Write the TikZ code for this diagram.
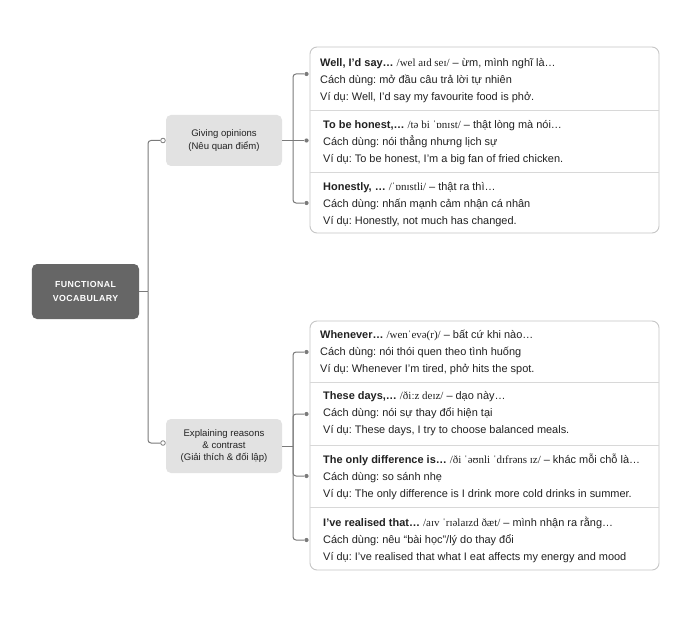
\documentclass[tikz,border=0pt]{standalone}
\usepackage{fontspec}
\setmainfont{Liberation Sans}
\newfontfamily\ipafont{Liberation Serif}
\newfontfamily\rootfont[LetterSpace=5]{Liberation Sans}
\usetikzlibrary{calc}
\definecolor{rootfill}{HTML}{666666}
\definecolor{midfill}{HTML}{E2E2E2}
\definecolor{cardline}{HTML}{C6C6C6}
\definecolor{divline}{HTML}{D8D8D8}
\definecolor{connc}{HTML}{7A7A7A}
\definecolor{txt}{HTML}{222222}
\frenchspacing
\begin{document}
\frenchspacing
\begin{tikzpicture}[x=1bp,y=-1bp,
  rootbox/.style={fill=rootfill, rounded corners=5bp, minimum width=107bp, minimum height=55bp, inner sep=0pt, text=white, align=center, font=\rootfont\bfseries\fontsize{8.8}{14}\selectfont},
  midbox/.style={fill=midfill, rounded corners=5bp, minimum width=116bp, inner sep=0pt, text=txt, align=center, font=\fontsize{9.6}{12.3}\selectfont},
  cardbox/.style={draw=cardline, line width=0.9bp, rounded corners=7bp, inner sep=0pt},
  divst/.style={draw=divline, line width=0.8bp},
  conn/.style={draw=connc, line width=1bp},
  ocirc/.style={circle, draw=connc, fill=white, line width=0.8bp, minimum size=4.6bp, inner sep=0pt},
  fdot/.style={circle, fill=connc, minimum size=4.2bp, inner sep=0pt},
  rowtxt/.style={anchor=west, align=left, inner sep=0pt, text=txt, font=\fontsize{11}{17}\selectfont},
]
\useasboundingbox (0,0) rectangle (700,617);
\fill[white] (0,0) rectangle (700,617);

% root and middle nodes
\node[rootbox] (root) at (85.5,291.5) {FUNCTIONAL\\VOCABULARY};
\node[midbox, minimum height=51bp] (g1) at (224,140.5) {Giving opinions\\(Nêu quan điểm)};
\node[midbox, minimum height=54bp] (g2) at (224,446) {Explaining reasons\\\& contrast\\(Giải thích \& đối lập)};

% trunk
\coordinate (trunk) at (148,291.5);
\node[ocirc] (o1) at (163,140.5) {};
\node[ocirc] (o2) at (163,443) {};
\draw[conn] (root.east) -- (trunk);
\draw[conn, rounded corners=3bp] (trunk) |- (o1);
\draw[conn, rounded corners=3bp] (trunk) |- (o2);

% cards
\node[cardbox, minimum width=349bp, minimum height=186bp] (card1) at (484.5,140) {};
\node[cardbox, minimum width=349bp, minimum height=249bp] (card2) at (484.5,445.5) {};
\draw[divst] (card1.west |- 0,110) -- (card1.east |- 0,110);
\draw[divst] (card1.west |- 0,172) -- (card1.east |- 0,172);
\draw[divst] (card2.west |- 0,382) -- (card2.east |- 0,382);
\draw[divst] (card2.west |- 0,445) -- (card2.east |- 0,445);
\draw[divst] (card2.west |- 0,507) -- (card2.east |- 0,507);

% branch 1
\coordinate (b1) at (293,140.5);
\node[fdot] (d11) at (306.5,74) {};
\node[fdot] (d12) at (306.5,140.5) {};
\node[fdot] (d13) at (306.5,203) {};
\draw[conn] (g1.east) -- (b1);
\draw[conn, rounded corners=3bp] (b1) |- (d11);
\draw[conn] (b1) -- (d12);
\draw[conn, rounded corners=3bp] (b1) |- (d13);

% branch 2
\coordinate (b2) at (293,446);
\node[fdot] (d21) at (306.5,352) {};
\node[fdot] (d22) at (306.5,414) {};
\node[fdot] (d23) at (306.5,476) {};
\node[fdot] (d24) at (306.5,540) {};
\draw[conn] (g2.east) -- (b2);
\draw[conn, rounded corners=3bp] (b2) |- (d21);
\draw[conn, rounded corners=3bp] (b2) |- (d22);
\draw[conn, rounded corners=3bp] (b2) |- (d23);
\draw[conn, rounded corners=3bp] (b2) |- (d24);

% rows card 1
\node[rowtxt] (r11) at (320,80.5) {\textbf{Well, I’d say…} {\ipafont /wel aɪd seɪ/} – ừm, mình nghĩ là…\\Cách dùng: mở đầu câu trả lời tự nhiên\\Ví dụ: Well, I’d say my favourite food is phở.};
\node[rowtxt] (r12) at (323,142.5) {\textbf{To be honest,…} {\ipafont /tə bi ˈɒnɪst/} – thật lòng mà nói…\\Cách dùng: nói thẳng nhưng lịch sự\\Ví dụ: To be honest, I’m a big fan of fried chicken.};
\node[rowtxt] (r13) at (323,204.5) {\textbf{Honestly, …} {\ipafont /ˈɒnɪstli/} – thật ra thì…\\Cách dùng: nhấn mạnh cảm nhận cá nhân\\Ví dụ: Honestly, not much has changed.};

% rows card 2
\node[rowtxt] (r21) at (320,352) {\textbf{Whenever…} {\ipafont /wenˈevə(r)/} – bất cứ khi nào…\\Cách dùng: nói thói quen theo tình huống\\Ví dụ: Whenever I’m tired, phở hits the spot.};
\node[rowtxt] (r22) at (323,414) {\textbf{These days,…} {\ipafont /ðiːz deɪz/} – dạo này…\\Cách dùng: nói sự thay đổi hiện tại\\Ví dụ: These days, I try to choose balanced meals.};
\node[rowtxt] (r23) at (323,477) {\textbf{The only difference is…} {\ipafont /ði ˈəʊnli ˈdɪfrəns ɪz/} – khác mỗi chỗ là…\\Cách dùng: so sánh nhẹ\\Ví dụ: The only difference is I drink more cold drinks in summer.};
\node[rowtxt] (r24) at (323,540) {\textbf{I’ve realised that…} {\ipafont /aɪv ˈrɪəlaɪzd ðæt/} – mình nhận ra rằng…\\Cách dùng: nêu “bài học”/lý do thay đổi\\Ví dụ: I’ve realised that what I eat affects my energy and mood};
\end{tikzpicture}
\end{document}
